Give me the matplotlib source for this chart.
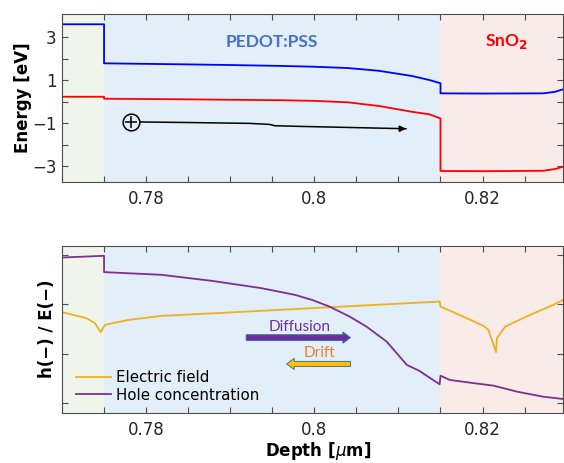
import matplotlib
matplotlib.use("Agg")
import matplotlib.pyplot as plt
import numpy as np

# layer boundaries (um)
x_min, x_max = 0.770, 0.8296
pedot_start, sno2_start = 0.775, 0.815

# band edges, top panel
band_x = [0.770, 0.775, 0.775, 0.785, 0.790, 0.796, 0.800, 0.804, 0.8077, 0.8116, 0.8137, 0.815,
          0.815, 0.820, 0.8272, 0.8286, 0.8296]
cb = [3.61, 3.61, 1.79, 1.74, 1.71, 1.67, 1.63, 1.57, 1.44, 1.20, 1.01, 0.86,
      0.39, 0.38, 0.39, 0.46, 0.58]
vb = [0.23, 0.23, 0.14, 0.11, 0.09, 0.07, 0.04, -0.03, -0.20, -0.47, -0.59, -0.78,
      -3.23, -3.24, -3.22, -3.14, -3.03]

# hole path
hole_x = [0.7782, 0.785, 0.7923, 0.7947, 0.7953, 0.7982, 0.804, 0.8109]
hole_y = [-0.94, -0.97, -1.01, -1.06, -1.12, -1.15, -1.20, -1.26]

# bottom panel: normalised hole concentration and field
h_x = [0.770, 0.775, 0.775, 0.7818, 0.7878, 0.7937, 0.7977, 0.7997, 0.8018, 0.8042,
       0.8062, 0.8086, 0.8110, 0.8125, 0.8137, 0.8149, 0.815, 0.8161, 0.8185,
       0.8213, 0.8241, 0.8272, 0.8296]
h_y = [2.95, 2.985, 2.654, 2.599, 2.477, 2.328, 2.192, 2.091, 1.954, 1.751,
       1.548, 1.243, 0.770, 0.648, 0.511, 0.377, 0.552, 0.465, 0.410,
       0.349, 0.227, 0.125, 0.078]
e_x = [0.770, 0.7729, 0.7739, 0.7746, 0.7751, 0.7779, 0.7818, 0.7898, 0.7997, 0.8149,
       0.815, 0.8177, 0.8201, 0.8207, 0.8216, 0.8217, 0.8227, 0.8252, 0.8284, 0.8296]
e_y = [1.841, 1.719, 1.617, 1.434, 1.583, 1.684, 1.765, 1.833, 1.922, 2.056,
       1.954, 1.751, 1.562, 1.481, 1.028, 1.312, 1.548, 1.751, 1.989, 2.091]

xticks = np.arange(0.770, 0.8296, 0.005)
xlabels = {0.78: "0.78", 0.80: "0.8", 0.82: "0.82"}

plt.rcParams["font.family"] = "DejaVu Sans"
plt.rcParams["mathtext.fontset"] = "dejavusans"

fig = plt.figure(figsize=(5.64, 4.63), dpi=100)
ax1 = fig.add_axes([62 / 564, 281.3 / 463, 501.3 / 564, 167.7 / 463])
ax2 = fig.add_axes([62 / 564, 50.3 / 463, 501.3 / 564, 167.0 / 463])


def shade(ax):
    ax.axvspan(x_min, pedot_start, color="#eff5ea", lw=0, zorder=0)
    ax.axvspan(pedot_start, sno2_start, color="#e2eef8", lw=0, zorder=0)
    ax.axvspan(sno2_start, x_max, color="#f9ece8", lw=0, zorder=0)


def style(ax):
    ax.set_xlim(x_min, x_max)
    ax.set_xticks(xticks)
    ax.set_xticklabels([xlabels.get(round(t, 3), "") for t in xticks])
    ax.tick_params(direction="in", top=True, right=True, length=4, width=0.8,
                   labelsize=12, colors="#4d4d4d", labelcolor="#262626")
    ax.tick_params(axis="x", pad=6)
    ax.tick_params(axis="y", pad=4)
    for s in ax.spines.values():
        s.set_color("#4d4d4d")
        s.set_linewidth(0.8)


# energy bands
shade(ax1)
ax1.plot(band_x, cb, color="#0000ff", lw=1.3)
ax1.plot(band_x, vb, color="#ff0000", lw=1.3)
ax1.plot(hole_x, hole_y, color="black", lw=1.1)
ax1.annotate("", xy=(hole_x[-1], hole_y[-1]), xytext=(hole_x[-1] - 0.0008, hole_y[-1]),
             arrowprops=dict(arrowstyle="-|>", color="black", lw=1.1,
                             mutation_scale=9, shrinkA=0, shrinkB=0))
ax1.plot(hole_x[0], hole_y[0], marker="o", ms=12, mfc="#e2eef8", mec="black", mew=1.1)
ax1.plot(hole_x[0], hole_y[0], marker="+", ms=9, mec="black", mew=1.1)
ax1.text(0.795, 2.79, "PEDOT:PSS", color="#4472c4", fontsize=12.5, fontweight="bold",
         family="Lato", ha="center", va="center")
ax1.text(0.8229, 2.79, "SnO$_\\mathbf{2}$", color="#ff0000", fontsize=12.5,
         fontweight="bold", family="Lato", ha="center", va="center")
ax1.set_ylim(-3.73, 4.09)
ax1.set_yticks(np.arange(-3, 4, 1))
ax1.set_yticklabels(["\u22123", "", "\u22121", "", "1", "", "3"])
style(ax1)
ax1.set_ylabel("Energy [eV]", fontsize=12, fontweight="bold")
ax1.yaxis.set_label_coords(-0.06, 0.5)

# hole concentration and electric field
shade(ax2)
ax2.plot(e_x, e_y, color="#edb120", lw=1.3, label="Electric field")
ax2.plot(h_x, h_y, color="#7e2f8e", lw=1.3, label="Hole concentration")
ax2.annotate("", xy=(0.8043, 1.324), xytext=(0.7919, 1.324),
             arrowprops=dict(arrowstyle="simple,head_length=0.55,head_width=0.8,tail_width=0.42",
                             fc="#6a2c9a", ec="#41719c", lw=0.7, mutation_scale=10,
                             shrinkA=0, shrinkB=0))
ax2.annotate("", xy=(0.7967, 0.79), xytext=(0.8043, 0.79),
             arrowprops=dict(arrowstyle="simple,head_length=0.55,head_width=0.8,tail_width=0.36",
                             fc="#ffc000", ec="#41719c", lw=0.7, mutation_scale=10,
                             shrinkA=0, shrinkB=0))
ax2.text(0.7983, 1.548, "Diffusion", color="#7030a0", fontsize=11, family="Lato",
         ha="center", va="center")
ax2.text(0.8006, 1.007, "Drift", color="#ed7d31", fontsize=11, family="Lato",
         ha="center", va="center")
ax2.set_ylim(-0.2, 3.19)
ax2.set_yticks([0, 1, 2, 3])
ax2.set_yticklabels([])
style(ax2)
ax2.set_ylabel("h(\u2212) / E(\u2212)", fontsize=12, fontweight="bold")
ax2.yaxis.set_label_coords(-0.012, 0.5)
ax2.set_xlabel("Depth [$\\mu$m]", fontsize=12, fontweight="bold")
ax2.xaxis.set_label_coords(0.51, -0.165)
ax2.legend(loc="lower left", bbox_to_anchor=(0.028, 0.06), frameon=False,
           fontsize=10.8, handlelength=2.3, handletextpad=0.35, labelspacing=0.15,
           borderpad=0, borderaxespad=0)

fig.savefig("out.png", dpi=100)
